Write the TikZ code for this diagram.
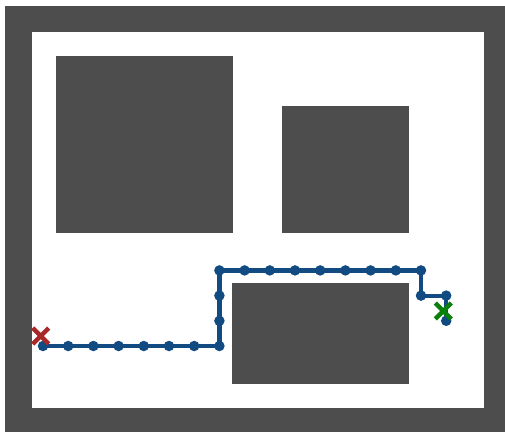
\documentclass[tikz,border=0pt]{standalone}
\begin{document}
\begin{tikzpicture}[x=1pt,y=-1pt,
  wall/.style={fill=wallgray,draw=none},
  dot/.style={circle,fill=pathblue,draw=none,minimum size=10.5pt,inner sep=0pt},
  route/.style={draw=pathblue,line width=4.2pt},
  xmark/.style={line width=4.4pt}]
\definecolor{wallgray}{HTML}{4D4D4D}
\definecolor{pathblue}{HTML}{114B82}
\definecolor{startred}{HTML}{A82828}
\definecolor{goalgreen}{HTML}{0A7F0A}
\useasboundingbox (0,0) rectangle (505,432);
% outer frame
\fill[wallgray] (5,6) rectangle (505,432);
\fill[white] (31.5,32) rectangle (483.5,408);
% obstacles
\fill[wallgray] (55.5,56) rectangle (233,233);
\fill[wallgray] (282,106) rectangle (409,233);
\fill[wallgray] (232,283) rectangle (409,384);
% path nodes
\foreach \i/\px/\py in {0/43/346,1/68.2/346,2/93.4/346,3/118.6/346,4/143.8/346,5/169/346,6/194.2/346,7/219.4/346,
  8/219.4/320.8,9/219.4/295.6,10/219.4/270.4,11/244.6/270.4,12/269.8/270.4,13/295/270.4,14/320.2/270.4,
  15/345.4/270.4,16/370.6/270.4,17/395.8/270.4,18/421/270.4,19/421/295.6,20/446.2/295.6,21/446.2/320.8}
  {\coordinate (c\i) at (\px,\py);}
\draw[route] (c0) \foreach \i in {1,...,21}{ -- (c\i)};
\foreach \i in {0,...,21}{\node[dot] (p\i) at (c\i) {};}
% start and goal markers
\coordinate (s) at (40.7,336);
\coordinate (g) at (443.3,311);
\draw[xmark,draw=startred] ([shift={(-8,-8)}]s) -- ([shift={(8,8)}]s) ([shift={(-8,8)}]s) -- ([shift={(8,-8)}]s);
\draw[xmark,draw=goalgreen] ([shift={(-8,-8)}]g) -- ([shift={(8,8)}]g) ([shift={(-8,8)}]g) -- ([shift={(8,-8)}]g);
\end{tikzpicture}
\end{document}
